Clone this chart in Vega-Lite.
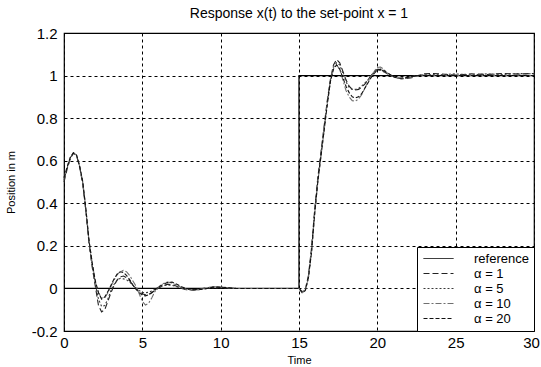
{
  "$schema": "https://vega.github.io/schema/vega-lite/v6.json",
  "width": 470,
  "height": 298,
  "autosize": {"type": "none"},
  "padding": {"left": 64, "top": 33, "right": 7, "bottom": 36},
  "background": "white",
  "title": {"text": "Response x(t) to the set-point x = 1", "fontSize": 14, "fontWeight": "normal", "font": "Liberation Sans", "color": "black", "offset": 5, "anchor": "middle"},
  "datasets": {
    "ref": [
      {"t": 0, "x": 0, "series": "reference"},
      {"t": 15, "x": 0, "series": "reference"},
      {"t": 15, "x": 1, "series": "reference"},
      {"t": 30, "x": 1, "series": "reference"}
    ],
    "resp": [
      {"t": 0, "α = 1": 0.50, "α = 5": 0.51, "α = 10": 0.52, "α = 20": 0.52},
      {"t": 0.2, "α = 1": 0.56, "α = 5": 0.565, "α = 10": 0.57, "α = 20": 0.57},
      {"t": 0.4, "α = 1": 0.61, "α = 5": 0.612, "α = 10": 0.615, "α = 20": 0.615},
      {"t": 0.6, "α = 1": 0.635, "α = 5": 0.636, "α = 10": 0.637, "α = 20": 0.637},
      {"t": 0.8, "α = 1": 0.625, "α = 5": 0.626, "α = 10": 0.627, "α = 20": 0.627},
      {"t": 1.0, "α = 1": 0.57, "α = 5": 0.572, "α = 10": 0.574, "α = 20": 0.574},
      {"t": 1.2, "α = 1": 0.49, "α = 5": 0.495, "α = 10": 0.50, "α = 20": 0.50},
      {"t": 1.4, "α = 1": 0.36, "α = 5": 0.365, "α = 10": 0.37, "α = 20": 0.37},
      {"t": 1.6, "α = 1": 0.21, "α = 5": 0.215, "α = 10": 0.22, "α = 20": 0.225},
      {"t": 1.8, "α = 1": 0.10, "α = 5": 0.11, "α = 10": 0.12, "α = 20": 0.12},
      {"t": 2.0, "α = 1": 0.01, "α = 5": 0.02, "α = 10": 0.03, "α = 20": 0.035},
      {"t": 2.2, "α = 1": -0.08, "α = 5": -0.05, "α = 10": -0.02, "α = 20": -0.02},
      {"t": 2.4, "α = 1": -0.11, "α = 5": -0.085, "α = 10": -0.045, "α = 20": -0.05},
      {"t": 2.6, "α = 1": -0.10, "α = 5": -0.08, "α = 10": -0.045, "α = 20": -0.04},
      {"t": 2.8, "α = 1": -0.06, "α = 5": -0.05, "α = 10": -0.02, "α = 20": -0.015},
      {"t": 3.0, "α = 1": -0.02, "α = 5": -0.01, "α = 10": 0.01, "α = 20": 0.015},
      {"t": 3.2, "α = 1": 0.015, "α = 5": 0.02, "α = 10": 0.04, "α = 20": 0.045},
      {"t": 3.4, "α = 1": 0.04, "α = 5": 0.04, "α = 10": 0.065, "α = 20": 0.068},
      {"t": 3.6, "α = 1": 0.055, "α = 5": 0.048, "α = 10": 0.08, "α = 20": 0.078},
      {"t": 3.8, "α = 1": 0.058, "α = 5": 0.045, "α = 10": 0.085, "α = 20": 0.075},
      {"t": 4.0, "α = 1": 0.05, "α = 5": 0.04, "α = 10": 0.078, "α = 20": 0.06},
      {"t": 4.2, "α = 1": 0.035, "α = 5": 0.03, "α = 10": 0.06, "α = 20": 0.04},
      {"t": 4.4, "α = 1": 0.015, "α = 5": 0.015, "α = 10": 0.035, "α = 20": 0.015},
      {"t": 4.6, "α = 1": 0.0, "α = 5": 0.0, "α = 10": 0.01, "α = 20": -0.005},
      {"t": 4.8, "α = 1": -0.015, "α = 5": -0.01, "α = 10": -0.025, "α = 20": -0.02},
      {"t": 5.0, "α = 1": -0.025, "α = 5": -0.018, "α = 10": -0.06, "α = 20": -0.032},
      {"t": 5.2, "α = 1": -0.03, "α = 5": -0.02, "α = 10": -0.078, "α = 20": -0.035},
      {"t": 5.4, "α = 1": -0.028, "α = 5": -0.018, "α = 10": -0.07, "α = 20": -0.03},
      {"t": 5.6, "α = 1": -0.02, "α = 5": -0.012, "α = 10": -0.045, "α = 20": -0.02},
      {"t": 5.8, "α = 1": -0.01, "α = 5": -0.004, "α = 10": -0.015, "α = 20": -0.008},
      {"t": 6.0, "α = 1": 0.0, "α = 5": 0.004, "α = 10": 0.005, "α = 20": 0.005},
      {"t": 6.3, "α = 1": 0.012, "α = 5": 0.012, "α = 10": 0.022, "α = 20": 0.018},
      {"t": 6.6, "α = 1": 0.02, "α = 5": 0.016, "α = 10": 0.03, "α = 20": 0.028},
      {"t": 6.9, "α = 1": 0.018, "α = 5": 0.014, "α = 10": 0.026, "α = 20": 0.03},
      {"t": 7.2, "α = 1": 0.01, "α = 5": 0.008, "α = 10": 0.015, "α = 20": 0.02},
      {"t": 7.5, "α = 1": 0.0, "α = 5": 0.002, "α = 10": 0.004, "α = 20": 0.008},
      {"t": 7.8, "α = 1": -0.006, "α = 5": -0.004, "α = 10": -0.004, "α = 20": 0.0},
      {"t": 8.2, "α = 1": -0.008, "α = 5": -0.006, "α = 10": -0.008, "α = 20": -0.006},
      {"t": 8.6, "α = 1": -0.004, "α = 5": -0.004, "α = 10": -0.006, "α = 20": -0.006},
      {"t": 9.0, "α = 1": 0.002, "α = 5": 0.0, "α = 10": 0.0, "α = 20": -0.002},
      {"t": 9.5, "α = 1": 0.006, "α = 5": 0.004, "α = 10": 0.008, "α = 20": 0.006},
      {"t": 10.0, "α = 1": 0.005, "α = 5": 0.004, "α = 10": 0.007, "α = 20": 0.006},
      {"t": 10.5, "α = 1": 0.002, "α = 5": 0.002, "α = 10": 0.003, "α = 20": 0.003},
      {"t": 11, "α = 1": 0.0, "α = 5": 0.0, "α = 10": 0.0, "α = 20": 0.0},
      {"t": 12, "α = 1": 0.0, "α = 5": 0.0, "α = 10": 0.0, "α = 20": 0.0},
      {"t": 13, "α = 1": 0.0, "α = 5": 0.0, "α = 10": 0.0, "α = 20": 0.0},
      {"t": 14, "α = 1": 0.0, "α = 5": 0.0, "α = 10": 0.0, "α = 20": 0.0},
      {"t": 15, "α = 1": 0.0, "α = 5": 0.0, "α = 10": 0.0, "α = 20": 0.0},
      {"t": 15.2, "α = 1": -0.015, "α = 5": -0.015, "α = 10": -0.02, "α = 20": -0.02},
      {"t": 15.4, "α = 1": -0.005, "α = 5": -0.01, "α = 10": -0.01, "α = 20": -0.01},
      {"t": 15.6, "α = 1": 0.06, "α = 5": 0.05, "α = 10": 0.05, "α = 20": 0.05},
      {"t": 15.8, "α = 1": 0.19, "α = 5": 0.18, "α = 10": 0.17, "α = 20": 0.17},
      {"t": 16.0, "α = 1": 0.37, "α = 5": 0.36, "α = 10": 0.35, "α = 20": 0.35},
      {"t": 16.2, "α = 1": 0.52, "α = 5": 0.51, "α = 10": 0.50, "α = 20": 0.50},
      {"t": 16.4, "α = 1": 0.64, "α = 5": 0.63, "α = 10": 0.62, "α = 20": 0.62},
      {"t": 16.6, "α = 1": 0.76, "α = 5": 0.75, "α = 10": 0.74, "α = 20": 0.74},
      {"t": 16.8, "α = 1": 0.88, "α = 5": 0.87, "α = 10": 0.87, "α = 20": 0.86},
      {"t": 17.0, "α = 1": 0.98, "α = 5": 0.97, "α = 10": 0.98, "α = 20": 0.97},
      {"t": 17.2, "α = 1": 1.05, "α = 5": 1.04, "α = 10": 1.04, "α = 20": 1.03},
      {"t": 17.4, "α = 1": 1.075, "α = 5": 1.06, "α = 10": 1.05, "α = 20": 1.05},
      {"t": 17.6, "α = 1": 1.06, "α = 5": 1.05, "α = 10": 1.03, "α = 20": 1.03},
      {"t": 17.8, "α = 1": 1.02, "α = 5": 1.01, "α = 10": 0.98, "α = 20": 0.99},
      {"t": 18.0, "α = 1": 0.98, "α = 5": 0.97, "α = 10": 0.93, "α = 20": 0.95},
      {"t": 18.2, "α = 1": 0.95, "α = 5": 0.945, "α = 10": 0.90, "α = 20": 0.92},
      {"t": 18.4, "α = 1": 0.935, "α = 5": 0.935, "α = 10": 0.882, "α = 20": 0.90},
      {"t": 18.6, "α = 1": 0.932, "α = 5": 0.935, "α = 10": 0.88, "α = 20": 0.895},
      {"t": 18.8, "α = 1": 0.935, "α = 5": 0.94, "α = 10": 0.89, "α = 20": 0.90},
      {"t": 19.0, "α = 1": 0.945, "α = 5": 0.95, "α = 10": 0.91, "α = 20": 0.915},
      {"t": 19.2, "α = 1": 0.96, "α = 5": 0.965, "α = 10": 0.94, "α = 20": 0.94},
      {"t": 19.4, "α = 1": 0.98, "α = 5": 0.98, "α = 10": 0.97, "α = 20": 0.965},
      {"t": 19.6, "α = 1": 1.0, "α = 5": 1.0, "α = 10": 0.995, "α = 20": 0.99},
      {"t": 19.8, "α = 1": 1.02, "α = 5": 1.015, "α = 10": 1.02, "α = 20": 1.01},
      {"t": 20.0, "α = 1": 1.03, "α = 5": 1.025, "α = 10": 1.038, "α = 20": 1.025},
      {"t": 20.2, "α = 1": 1.03, "α = 5": 1.025, "α = 10": 1.04, "α = 20": 1.03},
      {"t": 20.4, "α = 1": 1.02, "α = 5": 1.018, "α = 10": 1.03, "α = 20": 1.025},
      {"t": 20.6, "α = 1": 1.01, "α = 5": 1.01, "α = 10": 1.015, "α = 20": 1.015},
      {"t": 20.9, "α = 1": 1.0, "α = 5": 0.998, "α = 10": 1.0, "α = 20": 1.0},
      {"t": 21.2, "α = 1": 0.99, "α = 5": 0.99, "α = 10": 0.99, "α = 20": 0.99},
      {"t": 21.5, "α = 1": 0.985, "α = 5": 0.985, "α = 10": 0.985, "α = 20": 0.988},
      {"t": 21.8, "α = 1": 0.985, "α = 5": 0.988, "α = 10": 0.988, "α = 20": 0.99},
      {"t": 22.2, "α = 1": 0.99, "α = 5": 0.995, "α = 10": 0.995, "α = 20": 0.995},
      {"t": 22.6, "α = 1": 1.0, "α = 5": 1.0, "α = 10": 1.0, "α = 20": 1.0},
      {"t": 23, "α = 1": 1.008, "α = 5": 1.005, "α = 10": 1.003, "α = 20": 1.0},
      {"t": 23.5, "α = 1": 1.01, "α = 5": 1.005, "α = 10": 1.002, "α = 20": 1.0},
      {"t": 24, "α = 1": 1.008, "α = 5": 1.004, "α = 10": 1.0, "α = 20": 1.0},
      {"t": 25, "α = 1": 1.002, "α = 5": 1.008, "α = 10": 1.0, "α = 20": 1.0},
      {"t": 26, "α = 1": 1.008, "α = 5": 1.003, "α = 10": 1.0, "α = 20": 1.0},
      {"t": 27, "α = 1": 1.005, "α = 5": 1.008, "α = 10": 1.0, "α = 20": 1.0},
      {"t": 28, "α = 1": 1.01, "α = 5": 1.005, "α = 10": 1.0, "α = 20": 1.0},
      {"t": 29, "α = 1": 1.007, "α = 5": 1.01, "α = 10": 1.002, "α = 20": 1.0},
      {"t": 30, "α = 1": 1.01, "α = 5": 1.008, "α = 10": 1.0, "α = 20": 1.0}
    ]
  },
  "encoding": {
    "x": {"field": "t", "type": "quantitative", "scale": {"domain": [0, 30], "nice": false, "zero": false},
      "axis": {"values": [0, 5, 10, 15, 20, 25, 30], "title": "Time", "labelPadding": 4, "titlePadding": 4, "labelFlush": false, "labelOverlap": false,
        "labelOffset": {"condition": {"test": "datum.value == 30", "value": -3}, "value": 0}}},
    "y": {"field": "x", "type": "quantitative", "scale": {"domain": [-0.2, 1.2], "nice": false, "zero": false},
      "axis": {"values": [-0.2, 0, 0.2, 0.4, 0.6, 0.8, 1, 1.2], "title": "Position in m", "labelPadding": 7, "titlePadding": 15, "labelFlush": false, "labelOverlap": false, "labelExpr": "'' + round(datum.value * 10) / 10"}},
    "color": {"field": "series", "type": "nominal",
      "scale": {"domain": ["reference", "α = 1", "α = 5", "α = 10", "α = 20"], "range": ["#000000", "#222222", "#3a3a3a", "#707070", "#111111"]},
      "legend": {"title": null, "orient": "bottom-right", "offset": 0, "padding": 5, "strokeColor": "black", "fillColor": "white",
        "symbolType": "M-3,0H3", "symbolSize": 100, "symbolStrokeWidth": 1, "symbolFillColor": "transparent", "symbolOffset": 10,
        "labelFontSize": 13, "labelFont": "Liberation Sans", "labelColor": "black", "labelOffset": 29, "rowPadding": 1,
        "labelExpr": "datum.label + '\u00a0\u00a0\u00a0\u00a0'"}},
    "strokeDash": {"field": "series", "type": "nominal",
      "scale": {"domain": ["reference", "α = 1", "α = 5", "α = 10", "α = 20"], "range": [[1, 0], [6, 3], [2, 2], [6, 2, 2, 2], [4, 2]]},
      "legend": {"title": null, "orient": "bottom-right", "offset": 0, "padding": 5, "strokeColor": "black", "fillColor": "white",
        "symbolType": "M-3,0H3", "symbolSize": 100, "symbolStrokeWidth": 1, "symbolFillColor": "transparent", "symbolOffset": 10,
        "labelFontSize": 13, "labelFont": "Liberation Sans", "labelColor": "black", "labelOffset": 29, "rowPadding": 1,
        "labelExpr": "datum.label + '\u00a0\u00a0\u00a0\u00a0'"}}
  },
  "layer": [
    {
      "data": {"name": "ref"},
      "mark": {"type": "line", "strokeWidth": 1.3},
      "encoding": {"order": {"value": null}}
    },
    {
      "data": {"name": "resp"},
      "transform": [{"fold": ["α = 1", "α = 5", "α = 10", "α = 20"], "as": ["series", "x"]}],
      "mark": {"type": "line", "strokeWidth": 1.1}
    }
  ],
  "config": {
    "font": "Liberation Sans",
    "view": {"stroke": "black", "strokeWidth": 1.2},
    "axis": {"grid": true, "gridColor": "black", "gridDash": [3, 3], "gridOpacity": 1, "gridWidth": 1, "ticks": false, "domain": false,
      "labelFont": "Liberation Sans", "labelFontSize": 15, "labelColor": "black",
      "titleFont": "Liberation Sans", "titleFontSize": 11, "titleFontWeight": "normal", "titleColor": "black"}
  }
}
